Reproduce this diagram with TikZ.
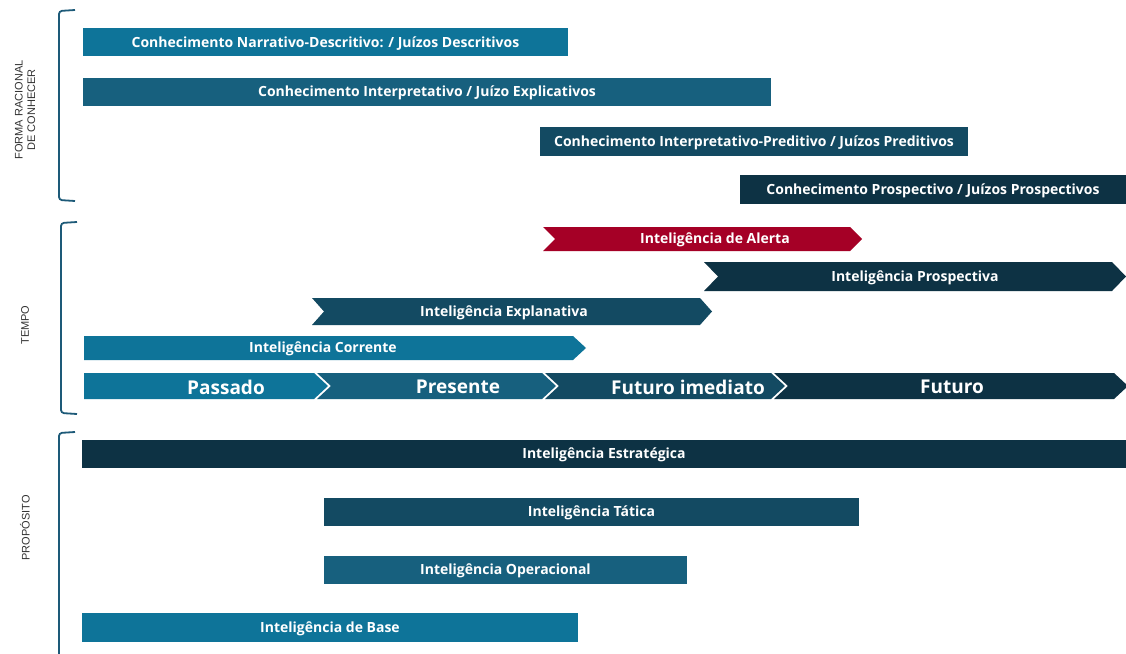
\documentclass[tikz,border=0pt]{standalone}
\usepackage{fontspec}
\setmainfont{Open Sans}
\newfontfamily\lblfont{Liberation Sans}
\definecolor{cA}{HTML}{0E7499}
\definecolor{cB}{HTML}{17607E}
\definecolor{cC}{HTML}{134A62}
\definecolor{cD}{HTML}{0D3244}
\definecolor{cR}{HTML}{A50026}
\definecolor{brk}{HTML}{1D5A78}
\definecolor{lbltxt}{HTML}{333333}
\tikzset{
  bartext/.style={text=white, inner sep=0pt, yshift=-1.2pt, font=\bfseries\fontsize{14}{16}\selectfont},
  timetext/.style={text=white, inner sep=0pt, yshift=-1pt, font=\bfseries\fontsize{19}{21}\selectfont},
  sidelabel/.style={rotate=90, text=lbltxt, align=center, inner sep=0pt, font=\lblfont\fontsize{11}{12.5}\selectfont},
  bracket/.style={draw=brk, line width=1.8pt, rounded corners=3pt},
}
\begin{document}
\begin{tikzpicture}[x=1pt,y=-1pt]
\useasboundingbox (0,0) rectangle (1126,653);
\fill[white] (0,0) rectangle (1126,653);

% brackets
\draw[bracket] (75,10) -- (59,11) -- (59,200) -- (75,201);
\draw[bracket] (77,222) -- (61,223) -- (61,413) -- (77,414);
\draw[bracket] (75,432) -- (59,433) -- (59,660);

\node[sidelabel] (lf) at (25,110) {FORMA RACIONAL\\DE CONHECER};
\node[sidelabel] (lt) at (25,325) {TEMPO};
\node[sidelabel] (lp) at (25,528) {PROPÓSITO};

% knowledge bars
\fill[cA] (83,28) rectangle (568,56);
\node[bartext] (k1) at (325.5,42) {Conhecimento Narrativo-Descritivo: / Juízos Descritivos};
\fill[cB] (83,78) rectangle (771,106);
\node[bartext] (k2) at (427,92) {Conhecimento Interpretativo / Juízo Explicativos};
\fill[cC] (540,127) rectangle (968,156);
\node[bartext] (k3) at (754,141.5) {Conhecimento Interpretativo-Preditivo / Juízos Preditivos};
\fill[cD] (740,175) rectangle (1126,204);
\node[bartext] (k4) at (933,189.5) {Conhecimento Prospectivo / Juízos Prospectivos};

% time chevrons
\fill[cR] (543,227) -- (850,227) -- (862,239) -- (850,251) -- (543,251) -- (555,239) -- cycle;
\node[bartext] (t1) at (715,239) {Inteligência de Alerta};
\fill[cD] (704,262) -- (1112,262) -- (1126,276.5) -- (1112,291) -- (704,291) -- (718,276.5) -- cycle;
\node[bartext] (t2) at (915,276.5) {Inteligência Prospectiva};
\fill[cC] (312,298) -- (700,298) -- (712,311.5) -- (700,325) -- (312,325) -- (324,311.5) -- cycle;
\node[bartext] (t3) at (504,311.5) {Inteligência Explanativa};
\fill[cA] (84,336) -- (573,336) -- (586,348) -- (573,360) -- (84,360) -- cycle;
\node[bartext] (t4) at (323,348) {Inteligência Corrente};

% timeline
\fill[cA] (84,373) -- (314,373) -- (328,386) -- (314,399) -- (84,399) -- cycle;
\node[timetext] (p1) at (226,386) {Passado};
\fill[cB] (317,373) -- (542,373) -- (556,386) -- (542,399) -- (317,399) -- (331,386) -- cycle;
\node[timetext] (p2) at (458,386) {Presente};
\fill[cC] (545,373) -- (771,373) -- (785,386) -- (771,399) -- (545,399) -- (559,386) -- cycle;
\node[timetext] (p3) at (688,386) {Futuro imediato};
\fill[cD] (774,373) -- (1114,373) -- (1128,386) -- (1114,399) -- (774,399) -- (788,386) -- cycle;
\node[timetext] (p4) at (952,386) {Futuro};

% purpose bars
\fill[cD] (82,440) rectangle (1126,468);
\node[bartext] (s1) at (604,454) {Inteligência Estratégica};
\fill[cC] (324,498) rectangle (859,526);
\node[bartext] (s2) at (591.5,512) {Inteligência Tática};
\fill[cB] (324,556) rectangle (687,584);
\node[bartext] (s3) at (505.5,570) {Inteligência Operacional};
\fill[cA] (82,613) rectangle (578,642);
\node[bartext] (s4) at (330,627.5) {Inteligência de Base};
\end{tikzpicture}
\end{document}
